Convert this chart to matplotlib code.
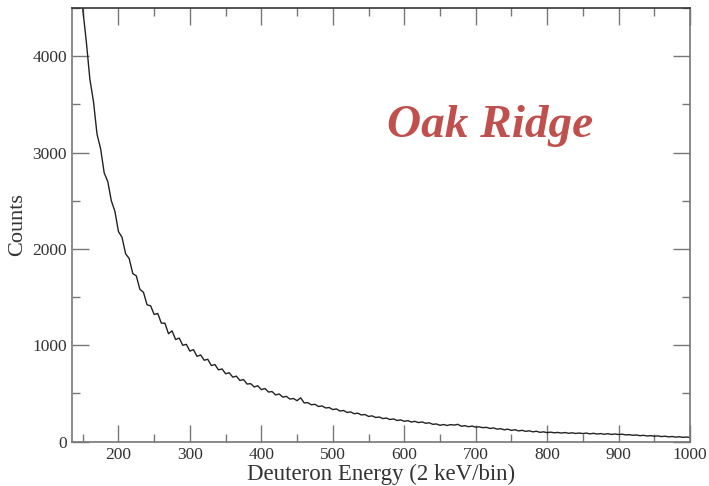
import matplotlib
matplotlib.use("Agg")
import matplotlib.pyplot as plt
from matplotlib.ticker import MultipleLocator

plt.rcParams['font.family'] = ['Liberation Serif', 'DejaVu Serif']

energy = list(range(150, 1001, 5))
counts = [
    4490, 4150, 3760, 3530, 3190, 3040, 2790, 2700, 2500, 2390,
    2180, 2120, 1950, 1900, 1745, 1720, 1580, 1550, 1420, 1410,
    1320, 1330, 1230, 1230, 1120, 1150, 1060, 1075, 1000, 1010,
    940, 955, 885, 900, 845, 855, 790, 800, 745, 755,
    705, 715, 670, 680, 635, 645, 598, 602, 568, 580,
    540, 552, 515, 520, 485, 495, 462, 470, 442, 448,
    425, 455, 402, 405, 383, 388, 365, 371, 350, 354,
    333, 340, 318, 324, 303, 309, 290, 296, 277, 282,
    262, 268, 251, 256, 240, 245, 230, 236, 220, 226,
    212, 218, 204, 211, 198, 205, 191, 196, 180, 184,
    170, 178, 168, 177, 172, 180, 160, 166, 155, 162,
    151, 154, 145, 149, 137, 143, 130, 135, 123, 130,
    117, 124, 112, 118, 107, 113, 102, 108, 97, 102,
    94, 99, 92, 96, 89, 95, 87, 92, 85, 90,
    84, 89, 81, 87, 79, 84, 77, 83, 75, 80,
    74, 78, 70, 73, 66, 70, 62, 66, 59, 63,
    56, 60, 53, 57, 50, 54, 47, 51, 45, 48,
    44,
]

x_ticks = [200, 300, 400, 500, 600, 700, 800, 900, 1000]
y_ticks = [0, 1000, 2000, 3000, 4000]

fig = plt.figure(figsize=(7.09, 4.86), dpi=100)
ax = fig.add_axes([0.1016, 0.0912, 0.8716, 0.8923])
ax.plot(energy, counts, color='#222222', lw=1.0)

ax.set_xlim(135, 1000)
ax.set_ylim(0, 4500)
ax.set_xticks(x_ticks)
ax.set_yticks(y_ticks)
ax.xaxis.set_minor_locator(MultipleLocator(50))
ax.yaxis.set_minor_locator(MultipleLocator(500))
ax.tick_params(which='both', direction='in', top=True, right=True,
               color='#777777', width=1.0, labelsize=12.5, labelcolor='#333333')
ax.tick_params(which='major', length=12)
ax.tick_params(which='minor', length=6)
for s in ['left', 'bottom', 'right']:
    ax.spines[s].set_color('#777777')
ax.spines['top'].set_color('#333333')
for s in ax.spines.values():
    s.set_linewidth(1.2)

ax.set_xlabel('Deuteron Energy (2 keV/bin)', fontsize=16.5, color='#333333', labelpad=1)
ax.set_ylabel('Counts', fontsize=16, color='#333333', labelpad=4)

fig.text(0.546, 0.718, 'Oak Ridge', fontsize=34, fontweight='bold', fontstyle='italic',
         color='#c0504d', ha='left', va='baseline')

fig.savefig('out.png', dpi=100)
